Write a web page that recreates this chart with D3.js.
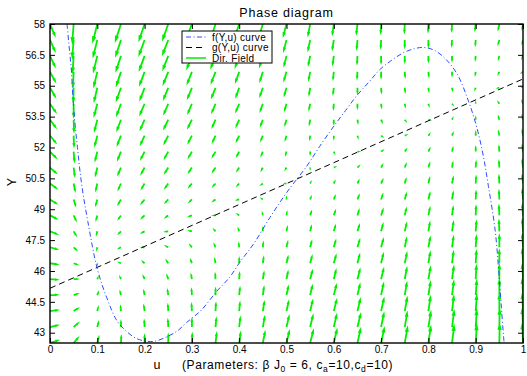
<!DOCTYPE html>
<html><head><meta charset="utf-8">
<script src="https://cdn.jsdelivr.net/npm/d3@7"></script>
<style>
html,body{margin:0;padding:0;background:#fff;}
text{font-family:"Liberation Sans",Arial,Helvetica,sans-serif;fill:#000;}
</style></head>
<body><svg id="chart" width="527" height="376"></svg>
<script>
// ---------- data ----------
const title = "Phase diagram";
const yLabel = "Y";
const xLabel = "u";
const paramsLabel = ["(Parameters: β J", "0", " = 6, c", "a", "=10,c", "d", "=10)"];
const legendLabels = ["f(Y,u) curve", "g(Y,u) curve", "Dir. Field"];
const xTicks = [0,0.1,0.2,0.3,0.4,0.5,0.6,0.7,0.8,0.9,1];
const xTickLabels = ["0","0.1","0.2","0.3","0.4","0.5","0.6","0.7","0.8","0.9","1"];
const yTicks = [43,44.5,46,47.5,49,50.5,52,53.5,55,56.5,58];
const yTickLabels = ["43","44.5","46","47.5","49","50.5","52","53.5","55","56.5","58"];
const xDomain = [0,1];
const yDomain = [42.5,58];

// f(Y,u)=0 curve (blue dash-dot)
const fU = [0.036,0.040,0.045,0.050,0.058,0.067,0.080,0.100,0.120,0.141,0.160,0.180,0.200,0.220,0.247,0.270,0.289,0.320,0.352,0.380,0.402,0.430,0.465,0.500,0.543,0.570,0.599,0.625,0.648,0.675,0.698,0.720,0.747,0.770,0.790,0.810,0.832,0.860,0.884,0.902,0.916,0.927,0.941,0.950,0.955,0.960];
const fY = [58.0,57.0,55.8,53.9,52.0,50.2,48.4,46.1,44.7,43.6,43.1,42.75,42.6,42.58,42.8,43.1,43.5,44.1,45.0,45.7,46.45,47.3,48.6,49.8,51.1,52.05,53.0,53.8,54.5,55.2,55.8,56.2,56.6,56.8,56.86,56.75,56.4,55.6,54.3,53.0,51.6,50.1,48.0,45.6,44.0,42.5];
// g(Y,u)=0 curve (black dashed)
const gU = [0,1];
const gY = [45.16,55.33];

// direction field grid
const uGrid = [0,0.05,0.1,0.15,0.2,0.25,0.3,0.35,0.4,0.45,0.5,0.55,0.6,0.65,0.7,0.75,0.8,0.85,0.9,0.95,1];
const yGrid = [42.5,43.275,44.05,44.825,45.6,46.375,47.15,47.925,48.7,49.475,50.25,51.025,51.8,52.575,53.35,54.125,54.9,55.675,56.45,57.225,58];
// field du component, one column per uGrid value, rows bottom -> top (yGrid)
const fieldU = [
[.22,.21,.21,.20,.20,.20,.19,.19,.18,.18,.18,.17,.17,.16,.16,.16,.15,.15,.14,.14,.14],
[.12,.12,.11,.10,.09,.08,.07,.06,.06,.05,.04,.03,.02,.01,.01,.00,-.01,-.02,-.03,-.04,-.04],
[.04,.03,.02,.02,.01,.00,-.01,-.02,-.03,-.04,-.04,-.05,-.06,-.07,-.08,-.09,-.09,-.10,-.11,-.12,-.13],
[.01,.00,-.01,-.02,-.02,-.03,-.04,-.05,-.06,-.07,-.07,-.08,-.09,-.10,-.11,-.12,-.13,-.13,-.14,-.15,-.16],
[.00,-.01,-.02,-.02,-.03,-.04,-.05,-.06,-.07,-.08,-.08,-.09,-.10,-.11,-.12,-.13,-.13,-.14,-.15,-.16,-.16],
[.00,-.01,-.01,-.02,-.03,-.04,-.05,-.06,-.06,-.07,-.08,-.09,-.10,-.11,-.12,-.12,-.13,-.14,-.15,-.16,-.16],
[.01,.00,-.01,-.01,-.02,-.03,-.04,-.05,-.06,-.06,-.07,-.08,-.09,-.10,-.11,-.11,-.12,-.13,-.14,-.15,-.16],
[.03,.02,.01,.00,-.01,-.02,-.03,-.03,-.04,-.05,-.06,-.07,-.08,-.08,-.09,-.10,-.11,-.12,-.13,-.13,-.14],
[.04,.03,.02,.02,.01,.00,-.01,-.02,-.03,-.04,-.04,-.05,-.06,-.07,-.08,-.09,-.09,-.10,-.11,-.12,-.13],
[.06,.05,.04,.03,.03,.02,.01,.00,-.01,-.02,-.03,-.03,-.04,-.05,-.06,-.07,-.08,-.08,-.09,-.10,-.11],
[.08,.07,.06,.05,.04,.04,.03,.02,.01,.00,-.01,-.02,-.02,-.03,-.04,-.05,-.06,-.07,-.07,-.08,-.09],
[.09,.08,.07,.06,.06,.05,.04,.03,.03,.02,.01,.00,.00,-.01,-.02,-.03,-.03,-.04,-.05,-.06,-.06],
[.09,.08,.08,.07,.06,.06,.05,.04,.04,.03,.02,.02,.01,.00,.00,-.01,-.02,-.02,-.03,-.04,-.04],
[.09,.09,.08,.07,.07,.06,.06,.05,.04,.04,.03,.03,.02,.01,.01,.00,.00,-.01,-.01,-.02,-.03],
[.09,.08,.08,.07,.07,.06,.06,.05,.05,.04,.04,.03,.03,.02,.02,.01,.01,.00,.00,-.01,-.01],
[.08,.07,.07,.06,.06,.06,.05,.05,.04,.04,.03,.03,.03,.02,.02,.01,.01,.01,.00,.00,-.01],
[.07,.07,.06,.06,.06,.05,.05,.04,.04,.04,.03,.03,.03,.02,.02,.01,.01,.01,.00,.00,-.01],
[.06,.06,.05,.05,.05,.04,.04,.04,.03,.03,.03,.02,.02,.02,.01,.01,.01,.00,.00,-.01,-.01],
[.03,.03,.03,.03,.02,.02,.02,.02,.01,.01,.01,.01,.00,.00,.00,.00,-.01,-.01,-.01,-.01,-.02],
[.01,.01,.00,.00,.00,.00,.00,-.01,-.01,-.01,-.01,-.01,-.01,-.02,-.02,-.02,-.02,-.02,-.02,-.03,-.03],
[-.02,-.02,-.02,-.02,-.02,-.02,-.02,-.02,-.02,-.02,-.02,-.02,-.02,-.02,-.02,-.02,-.02,-.02,-.02,-.02,-.02]
];
// field dY component, same layout
const fieldV = [
[1.6,1.1,0.7,0.2,-0.3,-0.7,-1.2,-1.7,-2.1,-2.6,-3.1,-3.5,-4.0,-4.5,-4.9,-5.4,-5.8,-6.3,-6.8,-7.2,-7.7],
[3.2,2.4,1.6,0.8,0.1,-0.7,-1.5,-2.3,-3.0,-3.8,-4.6,-5.4,-6.1,-6.9,-7.7,-8.5,-9.2,-10.0,-10.8,-11.6,-12.3],
[3.7,2.9,2.1,1.4,0.6,-0.2,-1.0,-1.7,-2.5,-3.3,-4.1,-4.8,-5.6,-6.4,-7.2,-7.9,-8.7,-9.5,-10.3,-11.0,-11.8],
[4.2,3.4,2.6,1.9,1.1,0.3,-0.5,-1.2,-2.0,-2.8,-3.6,-4.3,-5.1,-5.9,-6.7,-7.4,-8.2,-9.0,-9.8,-10.5,-11.3],
[4.7,3.9,3.1,2.4,1.6,0.8,0.0,-0.7,-1.5,-2.3,-3.1,-3.8,-4.6,-5.4,-6.2,-6.9,-7.7,-8.5,-9.3,-10.0,-10.8],
[5.2,4.4,3.7,2.9,2.1,1.3,0.6,-0.2,-1.0,-1.8,-2.6,-3.3,-4.1,-4.9,-5.7,-6.4,-7.2,-8.0,-8.8,-9.5,-10.3],
[5.7,4.9,4.2,3.4,2.6,1.8,1.1,0.3,-0.5,-1.3,-2.0,-2.8,-3.6,-4.4,-5.1,-5.9,-6.7,-7.5,-8.2,-9.0,-9.8],
[6.2,5.4,4.7,3.9,3.1,2.3,1.6,0.8,0.0,-0.8,-1.5,-2.3,-3.1,-3.9,-4.6,-5.4,-6.2,-7.0,-7.7,-8.5,-9.3],
[6.7,6.0,5.2,4.4,3.6,2.9,2.1,1.3,0.5,-0.2,-1.0,-1.8,-2.6,-3.3,-4.1,-4.9,-5.7,-6.4,-7.2,-8.0,-8.8],
[7.2,6.5,5.7,4.9,4.1,3.4,2.6,1.8,1.0,0.3,-0.5,-1.3,-2.1,-2.8,-3.6,-4.4,-5.2,-5.9,-6.7,-7.5,-8.3],
[7.8,7.0,6.2,5.4,4.7,3.9,3.1,2.3,1.6,0.8,0.0,-0.8,-1.6,-2.3,-3.1,-3.9,-4.7,-5.4,-6.2,-7.0,-7.8],
[8.3,7.5,6.7,5.9,5.2,4.4,3.6,2.8,2.1,1.3,0.5,-0.3,-1.1,-1.8,-2.6,-3.4,-4.2,-4.9,-5.7,-6.5,-7.3],
[8.8,8.0,7.2,6.4,5.7,4.9,4.1,3.3,2.6,1.8,1.0,0.2,-0.5,-1.3,-2.1,-2.9,-3.6,-4.4,-5.2,-6.0,-6.7],
[9.3,8.5,7.7,6.9,6.2,5.4,4.6,3.8,3.1,2.3,1.5,0.7,0.0,-0.8,-1.6,-2.4,-3.1,-3.9,-4.7,-5.5,-6.2],
[9.8,9.0,8.2,7.5,6.7,5.9,5.1,4.4,3.6,2.8,2.0,1.3,0.5,-0.3,-1.1,-1.8,-2.6,-3.4,-4.2,-4.9,-5.7],
[10.3,9.5,8.7,8.0,7.2,6.4,5.6,4.9,4.1,3.3,2.5,1.8,1.0,0.2,-0.6,-1.3,-2.1,-2.9,-3.7,-4.4,-5.2],
[10.8,10.0,9.3,8.5,7.7,6.9,6.2,5.4,4.6,3.8,3.1,2.3,1.5,0.7,-0.1,-0.8,-1.6,-2.4,-3.2,-3.9,-4.7],
[11.3,10.5,9.8,9.0,8.2,7.4,6.7,5.9,5.1,4.3,3.6,2.8,2.0,1.2,0.5,-0.3,-1.1,-1.9,-2.7,-3.4,-4.2],
[11.8,11.0,10.3,9.5,8.7,7.9,7.2,6.4,5.6,4.8,4.1,3.3,2.5,1.7,1.0,0.2,-0.6,-1.4,-2.1,-2.9,-3.7],
[12.3,11.5,10.8,10.0,9.2,8.4,7.7,6.9,6.1,5.3,4.6,3.8,3.0,2.2,1.5,0.7,-0.1,-0.9,-1.6,-2.4,-3.2],
[12.8,12.1,11.3,10.5,9.7,9.0,8.2,7.4,6.6,5.9,5.1,4.3,3.5,2.8,2.0,1.2,0.4,-0.3,-1.1,-1.9,-2.7]
];

// ---------- drawing ----------
const svg = d3.select("#chart");
const W = 527, H = 376;
const plot = {left:50, right:523, top:24, bottom:343};
svg.append("rect").attr("width",W).attr("height",H).attr("fill","#fff");

const x = d3.scaleLinear().domain(xDomain).range([plot.left, plot.right]);
const y = d3.scaleLinear().domain(yDomain).range([plot.bottom, plot.top]);

svg.append("defs").append("clipPath").attr("id","clip")
  .append("rect").attr("x",plot.left).attr("y",plot.top)
  .attr("width",plot.right-plot.left).attr("height",plot.bottom-plot.top);

const gPlot = svg.append("g").attr("clip-path","url(#clip)");

// quiver (MATLAB-like autoscale factor)
const quiverScale = 0.069;
const alpha = 0.25, beta = 0.3;
const arrows = [];
uGrid.forEach((u,i)=>{
  yGrid.forEach((Y,j)=>{
    const x0 = x(u), y0 = y(Y);
    const x1 = x(u + quiverScale*fieldU[i][j]);
    const y1 = y(Y + quiverScale*fieldV[i][j]);
    const dx = x1-x0, dy = y1-y0;
    const h1x = x1 - alpha*(dx + beta*dy), h1y = y1 - alpha*(dy - beta*dx);
    const h2x = x1 - alpha*(dx - beta*dy), h2y = y1 - alpha*(dy + beta*dx);
    arrows.push(`M${x0},${y0}L${x1},${y1}M${h1x},${h1y}L${x1},${y1}L${h2x},${h2y}`);
  });
});
gPlot.append("path").attr("d",arrows.join(""))
  .attr("fill","none").attr("stroke","#00ee00").attr("stroke-width",1.8)
  .attr("stroke-linecap","butt");

// g curve
const lineGen = d3.line().x(d=>x(d[0])).y(d=>y(d[1]));
gPlot.append("path").attr("d",lineGen(gU.map((u,i)=>[u,gY[i]])))
  .attr("fill","none").attr("stroke","#000").attr("stroke-width",1)
  .attr("stroke-dasharray","6,4");

// f curve
const curveGen = d3.line().x(d=>x(d[0])).y(d=>y(d[1])).curve(d3.curveCatmullRom);
gPlot.append("path").attr("d",curveGen(fU.map((u,i)=>[u,fY[i]])))
  .attr("fill","none").attr("stroke","#2a4dff").attr("stroke-width",1)
  .attr("stroke-dasharray","5,2.5,1,2.5");

// axes box
svg.append("rect").attr("x",plot.left).attr("y",plot.top)
  .attr("width",plot.right-plot.left).attr("height",plot.bottom-plot.top)
  .attr("fill","none").attr("stroke","#000").attr("stroke-width",1.4);

const tickLen = 5;
const axB = svg.append("g").attr("transform",`translate(0,${plot.bottom})`)
  .call(d3.axisBottom(x).tickValues(xTicks).tickFormat((d,i)=>xTickLabels[i]).tickSizeInner(-tickLen).tickSizeOuter(0).tickPadding(3));
const axT = svg.append("g").attr("transform",`translate(0,${plot.top})`)
  .call(d3.axisTop(x).tickValues(xTicks).tickFormat("").tickSizeInner(-tickLen).tickSizeOuter(0));
const axL = svg.append("g").attr("transform",`translate(${plot.left},0)`)
  .call(d3.axisLeft(y).tickValues(yTicks).tickFormat((d,i)=>yTickLabels[i]).tickSizeInner(-tickLen).tickSizeOuter(0).tickPadding(5));
const axR = svg.append("g").attr("transform",`translate(${plot.right},0)`)
  .call(d3.axisRight(y).tickValues(yTicks).tickFormat("").tickSizeInner(-tickLen).tickSizeOuter(0));
[axB,axT,axL,axR].forEach(a=>{
  a.select(".domain").remove();
  a.selectAll(".tick line").attr("stroke","#000").attr("stroke-width",1);
  a.selectAll("text").attr("font-size","10px").attr("font-family","Liberation Sans, Arial, sans-serif").attr("fill","#000");
});

// title
svg.append("text").attr("x",(plot.left+plot.right)/2).attr("y",16.5)
  .attr("text-anchor","middle").attr("font-size","12.5px").attr("letter-spacing","0.8px").text(title);

// y label
svg.append("text").attr("transform","translate(16,182) rotate(-90)")
  .attr("text-anchor","middle").attr("font-size","12.5px").text(yLabel);

// x label
svg.append("text").attr("x",157).attr("y",369).attr("text-anchor","middle")
  .attr("font-size","12.5px").text(xLabel);
const pt = svg.append("text").attr("x",182).attr("y",369).attr("font-size","12px").attr("letter-spacing","0.6px");
paramsLabel.forEach((s,i)=>{
  const sp = pt.append("tspan").text(s);
  if(i%2===1){ sp.attr("font-size","8.5px").attr("dy",3); }
  else if(i>0){ sp.attr("dy",-3); }
});

// legend
const lg = svg.append("g");
lg.append("rect").attr("x",182).attr("y",31).attr("width",90).attr("height",32)
  .attr("fill","#fff").attr("stroke","#000").attr("stroke-width",1);
const legStyles = [
  {stroke:"#2a4dff", dash:"5,2.5,1,2.5", w:1},
  {stroke:"#000", dash:"6,4", w:1},
  {stroke:"#00ee00", dash:null, w:1.5}
];
legendLabels.forEach((lab,i)=>{
  const yy = 37 + i*10.5;
  const l = lg.append("line").attr("x1",186).attr("x2",206).attr("y1",yy).attr("y2",yy)
    .attr("stroke",legStyles[i].stroke).attr("stroke-width",legStyles[i].w);
  if(legStyles[i].dash) l.attr("stroke-dasharray",legStyles[i].dash);
  lg.append("text").attr("x",212).attr("y",yy+3.5).attr("font-size","10px")
    .attr("letter-spacing","0.3px").text(lab);
});
</script></body></html>
